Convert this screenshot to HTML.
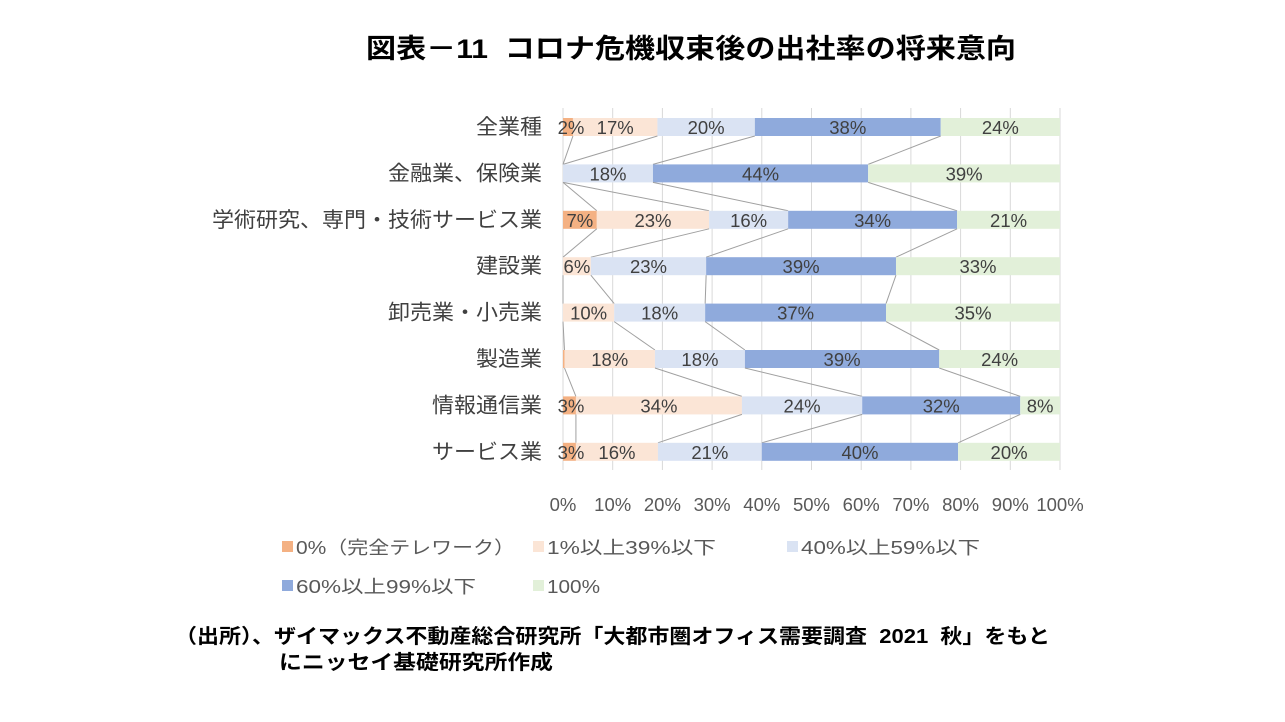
<!DOCTYPE html>
<html><head><meta charset="utf-8"><style>
body{margin:0;background:#fff;}
svg text{font-family:"Liberation Sans","Noto Sans CJK JP",sans-serif;}
</style></head><body>
<svg id="s" width="1285" height="717" xmlns="http://www.w3.org/2000/svg">
<text x="366" y="58" font-size="27" font-weight="bold" fill="#000" textLength="650" lengthAdjust="spacingAndGlyphs" xml:space="preserve">図表－11  コロナ危機収束後の出社率の将来意向</text>
<g id="g"></g>
<g font-size="18" fill="#595959">
<rect x="282" y="541" width="11" height="11" fill="#F4B183"/><text x="296" y="554" textLength="219" lengthAdjust="spacingAndGlyphs">0%（完全テレワーク）</text>
<rect x="533" y="541" width="11" height="11" fill="#FBE5D6"/><text x="547" y="554" textLength="169" lengthAdjust="spacingAndGlyphs">1%以上39%以下</text>
<rect x="787" y="541" width="11" height="11" fill="#DAE3F3"/><text x="801" y="554" textLength="179" lengthAdjust="spacingAndGlyphs">40%以上59%以下</text>
<rect x="282" y="580" width="11" height="11" fill="#8FAADC"/><text x="296" y="593" textLength="180" lengthAdjust="spacingAndGlyphs">60%以上99%以下</text>
<rect x="533" y="580" width="11" height="11" fill="#E2F0D9"/><text x="547" y="593" textLength="53" lengthAdjust="spacingAndGlyphs">100%</text>
</g>
<g font-size="20" font-weight="bold" fill="#000">
<text x="175" y="643" textLength="875" lengthAdjust="spacingAndGlyphs" xml:space="preserve">（出所）、ザイマックス不動産総合研究所「大都市圏オフィス需要調査  2021  秋」をもと</text>
<text x="279" y="669" textLength="274" lengthAdjust="spacingAndGlyphs">にニッセイ基礎研究所作成</text>
</g>
</svg>
<script>
var X0=563,W=497;
var rows=[["全業種",[0.02,0.19,0.386,0.76],["2%","17%","20%","38%","24%"]],
["金融業、保険業",[0,0,0.181,0.614],["","","18%","44%","39%"]],
["学術研究、専門・技術サービス業",[0.068,0.294,0.453,0.793],["7%","23%","16%","34%","21%"]],
["建設業",[0,0.056,0.288,0.67],["","6%","23%","39%","33%"]],
["卸売業・小売業",[0,0.103,0.286,0.65],["","10%","18%","37%","35%"]],
["製造業",[0.003,0.185,0.366,0.757],["","18%","18%","39%","24%"]],
["情報通信業",[0.026,0.36,0.602,0.92],["3%","34%","24%","32%","8%"]],
["サービス業",[0.026,0.191,0.4,0.795],["3%","16%","21%","40%","20%"]]];
var cols=["#F4B183","#FBE5D6","#DAE3F3","#8FAADC","#E2F0D9"];
var h='';
for(var i=0;i<=10;i++){var x=X0+W*i/10;h+='<line x1="'+x+'" y1="108" x2="'+x+'" y2="470" stroke="#d9d9d9" stroke-width="1"/>';
h+='<text x="'+x+'" y="511" text-anchor="middle" font-size="18.5" fill="#595959">'+(i*10)+'%</text>';}
var BH=18;
rows.forEach(function(r,k){var cy=127+k*46.4;var b=[0].concat(r[1]).concat([1]);
var tl=r[0].length*22;
h+='<text x="'+(542-tl)+'" y="'+(cy+7)+'" font-size="21" fill="#404040" textLength="'+tl+'" lengthAdjust="spacingAndGlyphs">'+r[0]+'</text>';
for(var j=0;j<5;j++){var a=X0+W*b[j],c=X0+W*b[j+1];
h+='<rect x="'+a+'" y="'+(cy-BH/2)+'" width="'+(c-a)+'" height="'+BH+'" fill="'+cols[j]+'"/>';}
for(var j=0;j<5;j++){if(!r[2][j])continue;var a=X0+W*b[j],c=X0+W*b[j+1];var m=(a+c)/2;
if(r[2][j]=="2%"||r[2][j]=="3%")m=a+8;
h+='<text x="'+m+'" y="'+(cy+7)+'" text-anchor="middle" font-size="18.5" fill="#404040">'+r[2][j]+'</text>';}
if(k<rows.length-1){var n=rows[k+1],ny=127+(k+1)*46.4;
for(var j=0;j<4;j++){h+='<line x1="'+(X0+W*r[1][j])+'" y1="'+(cy+BH/2)+'" x2="'+(X0+W*n[1][j])+'" y2="'+(ny-BH/2)+'" stroke="#a0a0a0" stroke-width="1"/>';}}
});
document.getElementById('g').innerHTML=h;
</script>
</body></html>
